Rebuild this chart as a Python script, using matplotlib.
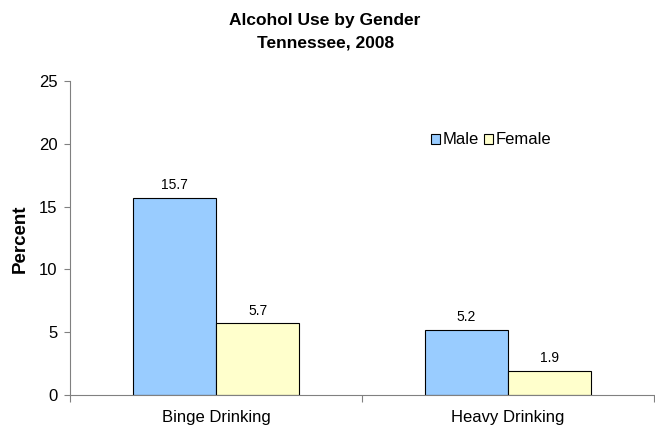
import matplotlib
matplotlib.use("Agg")
import matplotlib.pyplot as plt
import numpy as np

categories = ["Binge Drinking", "Heavy Drinking"]
male = [15.7, 5.2]
female = [5.7, 1.9]
series_names = ["Male", "Female"]
yticks = [0, 5, 10, 15, 20, 25]

plt.rcParams['font.family'] = ['Liberation Sans', 'DejaVu Sans']

W, H = 655, 428
fig = plt.figure(figsize=(W/100, H/100), dpi=100)
ax = fig.add_axes([70/W, 33/H, (654-70)/W, (395-81)/H])

x = np.arange(len(categories))
w = 0.285
b1 = ax.bar(x - w/2, male, w, color="#99ccff", edgecolor="black", linewidth=0.8, label=series_names[0])
b2 = ax.bar(x + w/2, female, w, color="#ffffcc", edgecolor="black", linewidth=0.8, label=series_names[1])
for bars, vals in ((b1, male), (b2, female)):
    for r, v in zip(bars, vals):
        ax.text(r.get_x() + r.get_width()/2, v + 0.7, f"{v:.1f}", ha="center", va="baseline", fontsize=10)

ax.set_xlim(-0.5, len(categories) - 0.5)
ax.set_ylim(0, 25)
ax.set_yticks(yticks)
ax.set_xticks(x)
ax.set_xticklabels(categories, fontsize=12)
ax.set_xticks(np.arange(-0.5, len(categories)), minor=True)
ax.tick_params(axis='x', which='major', length=0, pad=11)
ax.tick_params(axis='x', which='minor', length=5, width=0.8, color="#808080")
ax.tick_params(axis='y', length=4, width=0.8, color="#808080", labelsize=12, pad=5)
for s in ["top", "right"]:
    ax.spines[s].set_visible(False)
for s in ["left", "bottom"]:
    ax.spines[s].set_color("#808080")
    ax.spines[s].set_linewidth(0.8)

fig.text(20/W, 1 - 239/H, "Percent", rotation=90, ha="center", va="center",
         fontsize=13.5, fontweight="bold")

fig.text(325/W, 1 - 25/H, "Alcohol Use by Gender", ha="center", va="baseline",
         fontsize=12.5, fontweight="bold")
fig.text(326/W, 1 - 47/H, "Tennessee, 2008", ha="center", va="baseline",
         fontsize=12.5, fontweight="bold")

leg = ax.legend(loc="center left", bbox_to_anchor=((431-70)/584, (395-140)/314), ncol=2, frameon=False,
                fontsize=12, handlelength=0.55, handleheight=0.55, handletextpad=0.15,
                columnspacing=0.3, borderaxespad=0, borderpad=0)

fig.savefig("out.png", dpi=100)
